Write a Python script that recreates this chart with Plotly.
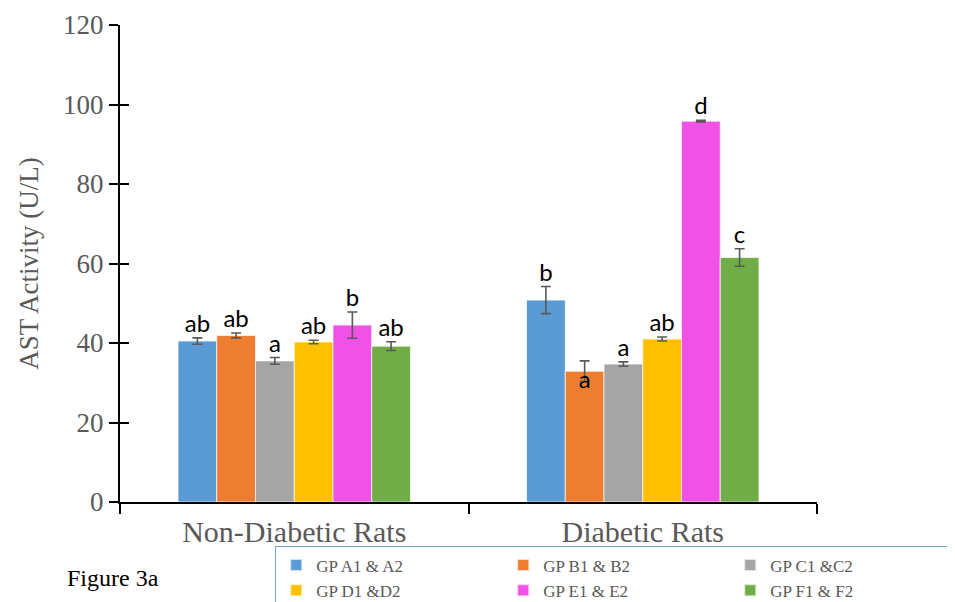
import plotly.graph_objects as go

categories = ["Non-Diabetic Rats", "Diabetic Rats"]
series_names = ["GP A1 & A2", "GP B1 & B2", "GP C1 &C2", "GP D1 &D2", "GP E1 & E2", "GP F1 & F2"]
colors = ["#5B9BD5", "#ED7D31", "#A5A5A5", "#FFC000", "#F152E6", "#70AD47"]

gp_a = [40.5, 50.8]
gp_b = [41.9, 32.9]
gp_c = [35.5, 34.7]
gp_d = [40.25, 41.0]
gp_e = [44.5, 95.8]
gp_f = [39.2, 61.5]

err_a = [0.8, 3.4]
err_b = [0.6, 2.6]
err_c = [0.85, 0.55]
err_d = [0.45, 0.5]
err_e = [3.3, 0.2]
err_f = [1.1, 2.2]

lbl_a = ["ab", "b"]
lbl_b = ["ab", "a"]
lbl_c = ["a", "a"]
lbl_d = ["ab", "ab"]
lbl_e = ["b", "d"]
lbl_f = ["ab", "c"]
# label placement: "above" the error bar or "below" the bar top
pos_b = ["above", "below"]

values = [gp_a, gp_b, gp_c, gp_d, gp_e, gp_f]
errors = [err_a, err_b, err_c, err_d, err_e, err_f]
labels = [lbl_a, lbl_b, lbl_c, lbl_d, lbl_e, lbl_f]
positions = [["above", "above"], pos_b, ["above", "above"], ["above", "above"], ["above", "above"], ["above", "above"]]

GAP = 0.333
fig = go.Figure()
for i, name in enumerate(series_names):
    fig.add_trace(go.Bar(
        x=categories, y=values[i], name=name, offsetgroup=str(i),
        marker=dict(color=colors[i], line=dict(color="rgba(255,255,255,0.7)", width=1)),
        error_y=dict(type="data", array=errors[i], color="#595959", thickness=1.6, width=5),
    ))
for i, name in enumerate(series_names):
    ys, tps = [], []
    for v, e, p in zip(values[i], errors[i], positions[i]):
        if p == "above":
            ys.append(v + e)
            tps.append("top center")
        else:
            ys.append(v - e)
            tps.append("middle center")
    fig.add_trace(go.Scatter(
        x=categories, y=ys, mode="text", text=labels[i], textposition=tps,
        offsetgroup=str(i), showlegend=False, hoverinfo="skip", cliponaxis=False,
        textfont=dict(family="Lato", size=24, color="black"),
    ))
# overlay axis for inner half of the cross ticks
fig.add_trace(go.Scatter(x=[None], y=[None], yaxis="y2", showlegend=False, hoverinfo="skip"))

fig.update_layout(
    width=947, height=594,
    margin=dict(l=112, r=138, t=17, b=100, autoexpand=False),
    paper_bgcolor="white", plot_bgcolor="white",
    barmode="group", bargap=GAP, bargroupgap=0,
    scattermode="group", scattergap=GAP,
    font=dict(family="Liberation Serif", color="#595959"),
    xaxis=dict(
        type="category", showline=True, linecolor="black", linewidth=2,
        ticks="outside", tickson="boundaries", ticklen=10, tickwidth=1.5, tickcolor="black",
        tickfont=dict(family="Liberation Serif", size=30, color="#595959"),
        ticklabelstandoff=2, showgrid=False, zeroline=False,
    ),
    yaxis=dict(
        range=[0, 120], dtick=20, showline=True, linecolor="black", linewidth=2,
        ticks="outside", ticklen=9, tickwidth=1.5, tickcolor="black",
        tickfont=dict(family="Liberation Serif", size=27, color="#595959"),
        showgrid=False, zeroline=False,
        title=dict(text="AST Activity (U/L)", font=dict(family="Liberation Serif", size=27, color="#595959"), standoff=17),
    ),
    yaxis2=dict(
        overlaying="y", side="left", range=[0, 120], dtick=20, showline=False,
        ticks="inside", ticklen=9, tickwidth=1.5, tickcolor="black",
        showticklabels=False, showgrid=False, zeroline=False,
    ),
    legend=dict(
        orientation="h", x=0.222, xanchor="left", y=-0.0922, yanchor="top",
        entrywidth=182, entrywidthmode="pixels",
        font=dict(family="Liberation Serif", size=17, color="#595959"),
        bordercolor="#7FA8D9", borderwidth=1.5, bgcolor="white",
        tracegroupgap=0, itemsizing="constant",
    ),
    annotations=[dict(
        text="Figure 3a", xref="paper", yref="paper", x=-0.079, y=-0.159,
        xanchor="left", yanchor="middle", showarrow=False,
        font=dict(family="Liberation Serif", size=24, color="black"),
    )],
)

fig.write_html("out.html")
